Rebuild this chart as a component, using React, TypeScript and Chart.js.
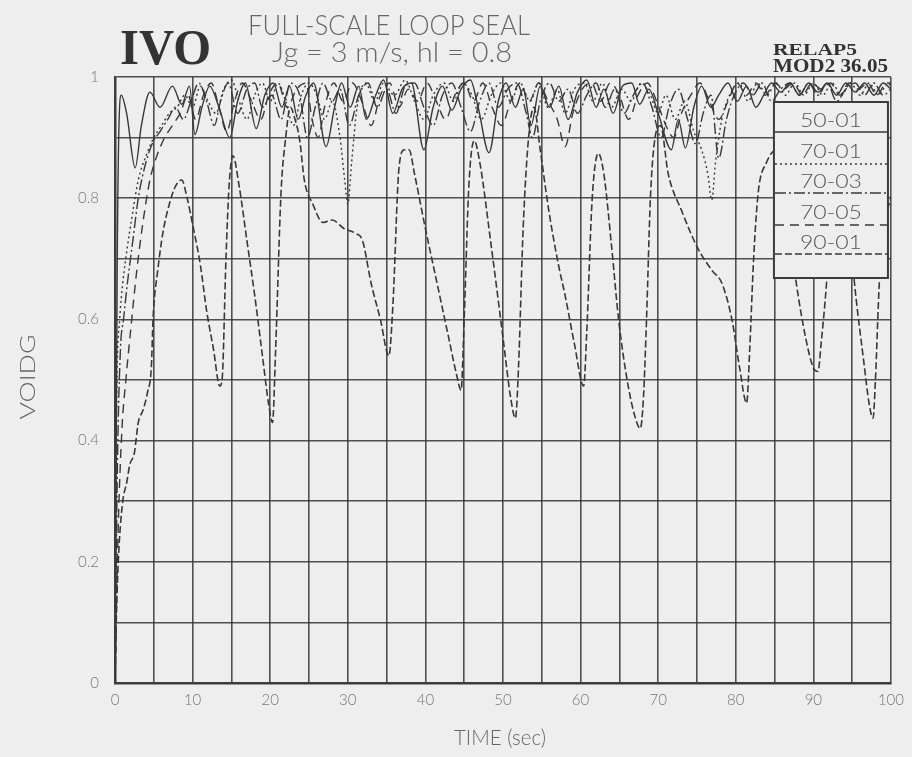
import React, { useEffect, useRef } from "react";
import { Chart, registerables } from "chart.js";

Chart.register(...registerables);

// ---------- data (time sec, VOIDG) ----------
const seriesNames = ["50-01", "70-01", "70-03", "70-05", "90-01"];

const s5001: [number, number][] = [
  [0,0],[0.3,0.72],[0.8,0.97],[1.5,0.94],[2.6,0.85],[3.4,0.92],[4.5,0.975],[5.8,0.95],[7.4,0.985],[8.6,0.955],
  [9.6,0.985],[10.3,0.905],[11.2,0.95],[12.2,0.985],[13.4,0.95],[14.8,0.9],[15.8,0.96],[16.8,0.99],[18.2,0.915],[19.3,0.97],
  [20.4,0.99],[21.5,0.95],[22.5,0.985],[23.6,0.93],[24.6,0.97],[25.6,0.99],[27.2,0.885],[28.3,0.95],[29.2,0.99],[30.3,0.95],
  [31.4,0.985],[32.4,0.93],[33.6,0.97],[34.6,0.995],[35.8,0.94],[37,0.98],[38.2,0.99],[39.8,0.88],[41,0.95],[42.2,0.985],
  [43.4,0.945],[44.6,0.98],[45.8,0.995],[46.8,0.95],[48.2,0.875],[49.4,0.96],[50.4,0.99],[51.6,0.95],[52.6,0.98],[53.6,0.92],
  [54.8,0.985],[56,0.95],[57.2,0.985],[58.4,0.93],[59.6,0.975],[60.8,0.995],[62,0.95],[63,0.98],[64.2,0.94],[65.4,0.985],
  [66.6,0.99],[67.6,0.955],[68.8,0.98],[70,0.94],[71.7,0.88],[72.6,0.93],[73.5,0.883],[74.6,0.95],[75.6,0.985],[76.8,0.95],
  [77.8,0.97],[79,0.99],[80.2,0.96],[81.4,0.985],[82.6,0.95],[83.6,0.97],[84.6,0.99],[85.8,0.975],[87,0.99],[88.2,0.97],
  [89.4,0.99],[90.6,0.975],[91.8,0.99],[93,0.97],[94.2,0.99],[95.4,0.975],[96.6,0.99],[97.8,0.97],[99,0.99],[100,0.98]
];

const s7001: [number, number][] = [
  [0,0],[0.2,0.45],[0.6,0.6],[1,0.66],[1.6,0.72],[2.2,0.77],[3,0.83],[4,0.87],[5,0.9],[6,0.92],
  [7,0.94],[8,0.95],[9,0.97],[10,0.95],[11,0.985],[12,0.96],[13,0.94],[14,0.98],[15,0.995],[16,0.96],
  [17,0.93],[18,0.97],[19,0.99],[20,0.96],[21,0.99],[22,0.96],[23,0.92],[24,0.97],[25,0.99],[26,0.97],
  [27,0.93],[28,0.96],[29,0.9],[29.6,0.83],[30,0.79],[30.5,0.86],[31.2,0.95],[32.3,0.99],[33.5,0.96],[34.6,0.99],
  [36,0.97],[37.4,0.995],[38.6,0.96],[39.8,0.93],[41,0.97],[42.4,0.99],[43.6,0.96],[44.8,0.99],[46,0.97],[47.2,0.93],
  [48.5,0.97],[49.7,0.99],[51,0.96],[52.2,0.99],[53.5,0.96],[54.6,0.99],[55.8,0.95],[57,0.98],[58,0.94],[59.2,0.98],
  [60.5,0.99],[61.6,0.96],[62.8,0.99],[64,0.95],[65.3,0.98],[66.5,0.96],[67.8,0.99],[69,0.97],[70,0.94],[71,0.97],
  [72.2,0.93],[73.4,0.96],[74.6,0.91],[75.6,0.88],[76.4,0.84],[76.9,0.797],[77.4,0.86],[78.2,0.93],[79.2,0.97],[80.4,0.99],
  [81.6,0.96],[82.8,0.99],[84,0.97],[85.2,0.99],[86.4,0.97],[87.6,0.99],[88.8,0.97],[90,0.99],[91.2,0.97],[92.4,0.99],
  [93.6,0.97],[94.8,0.99],[96,0.97],[97.2,0.99],[98.4,0.97],[99.6,0.99],[100,0.985]
];

const s7003: [number, number][] = [
  [0,0],[0.3,0.35],[0.7,0.55],[1.1,0.6],[1.6,0.66],[2.3,0.73],[3,0.8],[3.8,0.85],[4.8,0.89],[5.8,0.91],
  [6.8,0.93],[7.8,0.95],[8.8,0.93],[9.8,0.96],[10.8,0.99],[11.8,0.96],[12.8,0.92],[13.6,0.96],[14.6,0.99],[15.8,0.94],
  [17,0.98],[18,0.99],[19,0.95],[20.2,0.97],[21.4,0.93],[22.6,0.99],[23.8,0.97],[24.8,0.9],[25.8,0.95],[26.8,0.99],
  [28,0.96],[29,0.98],[30.2,0.92],[31.4,0.97],[32.6,0.99],[33.8,0.95],[35,0.98],[36.2,0.94],[37.4,0.985],[38.6,0.99],
  [39.8,0.95],[41,0.92],[42.2,0.97],[43.4,0.99],[44.6,0.95],[45.8,0.91],[47,0.96],[48.2,0.99],[49.4,0.95],[50.6,0.98],
  [51.8,0.99],[53,0.94],[53.8,0.9],[54.8,0.96],[56,0.99],[57.2,0.96],[58.4,0.98],[59.6,0.94],[60.8,0.97],[62,0.99],
  [63.2,0.95],[64.4,0.98],[65.6,0.94],[66.8,0.97],[68,0.99],[69.2,0.95],[70.4,0.9],[71.4,0.95],[72.6,0.98],[73.8,0.93],
  [74.8,0.89],[75.8,0.94],[76.8,0.97],[77.8,0.866],[78.8,0.93],[79.8,0.97],[81,0.99],[82.2,0.97],[83.4,0.99],[84.6,0.96],
  [85.8,0.98],[87,0.99],[88.2,0.97],[89.4,0.99],[90.6,0.97],[91.8,0.99],[93,0.96],[94.2,0.98],[95.4,0.99],[96.6,0.97],
  [97.8,0.99],[99,0.97],[100,0.98]
];

const s7005: [number, number][] = [
  [0,0],[0.4,0.25],[0.9,0.42],[1.4,0.5],[2,0.58],[2.8,0.68],[3.6,0.76],[4.5,0.83],[5.4,0.87],[6.4,0.9],
  [7.4,0.92],[8.4,0.94],[9.4,0.97],[10.4,0.93],[11.4,0.97],[12.4,0.99],[13.4,0.95],[14.4,0.91],[15.4,0.96],[16.4,0.99],
  [17.6,0.96],[18.8,0.93],[19.8,0.97],[21,0.99],[22.2,0.95],[23.4,0.98],[24.6,0.99],[25.4,0.93],[26.2,0.9],[27,0.95],
  [28.2,0.99],[29.4,0.96],[30.6,0.99],[31.8,0.96],[33,0.92],[34.2,0.97],[35.4,0.99],[36.6,0.95],[37.8,0.98],[39,0.96],
  [40.2,0.99],[41.4,0.96],[42.6,0.93],[43.8,0.97],[45,0.99],[46.2,0.96],[47.4,0.99],[48.6,0.95],[49.8,0.92],[51,0.96],
  [52.2,0.99],[53.4,0.96],[54.6,0.99],[55.8,0.96],[57,0.93],[58,0.885],[59,0.94],[60.2,0.98],[61.4,0.99],[62.6,0.96],
  [63.8,0.99],[65,0.97],[66.2,0.93],[67.4,0.97],[68.6,0.99],[69.8,0.96],[71,0.92],[72,0.9],[73,0.94],[74.2,0.97],
  [75.4,0.99],[76.6,0.96],[77.8,0.93],[79,0.96],[80.2,0.99],[81.4,0.97],[82.6,0.99],[83.8,0.97],[85,0.99],[86.2,0.98],
  [87.4,0.99],[88.6,0.97],[89.8,0.99],[91,0.98],[92.2,0.99],[93.4,0.97],[94.6,0.99],[95.8,0.98],[97,0.99],[98.2,0.97],
  [99.4,0.99],[100,0.99]
];

const s9001: [number, number][] = [
  [0,0],[0.2,0.12],[0.5,0.22],[1,0.3],[1.5,0.33],[1.9,0.36],[2.5,0.38],[3,0.43],[3.6,0.45],[4.2,0.48],
  [4.7,0.525],[4.9,0.6],[5.5,0.68],[6.2,0.745],[7,0.79],[7.8,0.82],[8.6,0.83],[9.3,0.8],[10,0.757],[11,0.69],
  [11.8,0.615],[12.7,0.55],[13.5,0.49],[13.8,0.5],[14.3,0.7],[14.7,0.82],[15.2,0.87],[16,0.82],[17,0.73],[18,0.64],
  [19,0.54],[19.8,0.46],[20.3,0.43],[20.7,0.55],[21.4,0.81],[22,0.9],[22.6,0.95],[23.2,0.93],[23.8,0.896],[24.4,0.83],
  [25.5,0.79],[26.8,0.76],[28,0.764],[29.5,0.75],[31,0.742],[31.9,0.73],[33,0.66],[34.2,0.6],[35.3,0.54],[35.8,0.62],
  [36.6,0.85],[37.3,0.88],[37.9,0.88],[38.6,0.84],[40,0.75],[41.5,0.66],[43,0.57],[44,0.51],[44.6,0.483],[45,0.6],
  [45.6,0.82],[46.3,0.895],[47,0.86],[48.5,0.72],[50,0.57],[51,0.47],[51.6,0.437],[52,0.52],[52.6,0.75],[53.3,0.9],
  [54,0.95],[54.8,0.88],[55.9,0.78],[57.2,0.687],[58,0.64],[59.2,0.56],[60.4,0.49],[60.8,0.58],[61.5,0.8],[62.3,0.874],
  [63,0.84],[64,0.72],[64.9,0.6],[66,0.5],[67,0.44],[67.7,0.42],[68.1,0.47],[68.5,0.6],[69,0.8],[69.6,0.9],
  [70.3,0.92],[71.3,0.84],[73,0.78],[75.2,0.715],[77,0.68],[78.2,0.66],[79.5,0.6],[80.5,0.52],[81.4,0.462],[81.8,0.55],
  [82.3,0.7],[82.9,0.81],[84,0.86],[84.6,0.874],[85.3,0.88],[86,0.84],[87,0.74],[87.8,0.66],[89,0.57],[90,0.52],
  [90.6,0.514],[91,0.56],[91.7,0.66],[92.3,0.78],[93,0.86],[93.7,0.87],[94.5,0.78],[95.3,0.66],[96.5,0.53],[97.2,0.46],
  [97.7,0.437],[98,0.5],[98.5,0.66],[99.2,0.76],[100,0.8]
];

const xTickLabels = ["0", "10", "20", "30", "40", "50", "60", "70", "80", "90", "100"];
const yTickLabels = ["0", "0.2", "0.4", "0.6", "0.8", "1"];

// ---------- styles ----------
const BG = "#eeeeee";
const INK = "#3c3c3c";
const LINE = "#383838";
const dashes: number[][] = [[], [2, 3], [11, 3, 2, 3], [9, 6], [7, 3]];

function fitText(ctx: CanvasRenderingContext2D, text: string, x: number, y: number, w: number, font: string, color: string, align: "left" | "center" = "left") {
  ctx.save();
  ctx.font = font;
  ctx.fillStyle = color;
  ctx.textBaseline = "alphabetic";
  ctx.textAlign = "left";
  const m = ctx.measureText(text).width;
  const sx = w / m;
  const left = align === "center" ? x - w / 2 : x;
  ctx.translate(left, y);
  ctx.scale(sx, 1);
  ctx.fillText(text, 0, 0);
  ctx.restore();
}

const bgPlugin = {
  id: "bgfill",
  beforeDraw(chart: any) {
    const ctx = chart.ctx;
    ctx.save();
    ctx.fillStyle = BG;
    ctx.fillRect(0, 0, chart.width, chart.height);
    ctx.restore();
  },
};

const decoPlugin = {
  id: "deco",
  afterDatasetsDraw(chart: any) {
    const ctx: CanvasRenderingContext2D = chart.ctx;
    const ca = chart.chartArea;
    // legend box
    const right = ca.right - 3;
    const left = right - 114;
    const top = ca.top + 25;
    const bottom = ca.top + 201;
    ctx.save();
    ctx.fillStyle = BG;
    ctx.fillRect(left, top, right - left, bottom - top);
    ctx.strokeStyle = INK;
    ctx.lineWidth = 2;
    ctx.strokeRect(left, top, right - left, bottom - top);
    const sepOffsets = [55, 87, 116, 148, 177];
    const textOffsets = [50, 81, 111, 142, 172];
    seriesNames.forEach((name, i) => {
      fitText(ctx, name, (left + right) / 2, ca.top + textOffsets[i], 62, "300 19px Lato", "#555", "center");
      ctx.save();
      ctx.beginPath();
      ctx.setLineDash(dashes[i]);
      ctx.strokeStyle = LINE;
      ctx.lineWidth = 1.5;
      ctx.moveTo(left + 1, ca.top + sepOffsets[i]);
      ctx.lineTo(right - 1, ca.top + sepOffsets[i]);
      ctx.stroke();
      ctx.restore();
    });
    ctx.restore();
  },
  afterDraw(chart: any) {
    const ctx: CanvasRenderingContext2D = chart.ctx;
    const ca = chart.chartArea;
    fitText(ctx, "IVO", ca.left + 5, 64, 91, "bold 50px 'Liberation Serif'", "#333");
    fitText(ctx, "FULL-SCALE LOOP SEAL", 248, 35, 282, "300 27px Lato", "#666");
    fitText(ctx, "Jg = 3 m/s, hl = 0.8", 272, 62, 240, "300 27px Lato", "#666");
    fitText(ctx, "RELAP5", 773, 55, 84, "bold 17px 'Liberation Serif'", "#333");
    fitText(ctx, "MOD2 36.05", 773, 72, 115, "bold 18px 'Liberation Serif'", "#333");
    fitText(ctx, "TIME (sec)", (ca.left + ca.right) / 2 - 3, 745, 92, "300 22px Lato", "#666", "center");
    ctx.save();
    ctx.translate(35, (ca.top + ca.bottom) / 2 - 3);
    ctx.rotate(-Math.PI / 2);
    fitText(ctx, "VOIDG", 0, 0, 85, "300 22px Lato", "#666", "center");
    ctx.restore();
  },
};

export default function App() {
  const ref = useRef<HTMLCanvasElement | null>(null);
  useEffect(() => {
    if (!ref.current) return;
    const all = [s5001, s7001, s7003, s7005, s9001];
    const chart = new Chart(ref.current, {
      type: "line",
      data: {
        datasets: all.map((s, i) => ({
          label: seriesNames[i],
          data: s.map(([x, y]) => ({ x, y })),
          borderColor: LINE,
          borderWidth: i === 4 ? 1.6 : 1.4,
          borderDash: dashes[i],
          pointRadius: 0,
          fill: false,
          cubicInterpolationMode: "monotone" as const,
        })),
      },
      options: {
        animation: false,
        responsive: true,
        maintainAspectRatio: false,
        layout: { padding: { left: 0, right: 19, top: 77, bottom: 0 } },
        plugins: { legend: { display: false }, tooltip: { enabled: false } },
        scales: {
          x: {
            type: "linear",
            min: 0,
            max: 100,
            afterFit: (s: any) => { s.height = 74; },
            ticks: {
              stepSize: 5,
              autoSkip: false,
              maxRotation: 0,
              padding: 8,
              color: "#777",
              font: { family: "Lato", size: 15, weight: 300 as any },
              callback: (v: any) => {
                const n = Math.round(Number(v));
                return n % 10 === 0 ? xTickLabels[n / 10] : "";
              },
            },
            grid: { color: "rgba(50,50,50,0.85)", lineWidth: 1.6, drawTicks: false },
            border: { display: true, color: INK, width: 2.5 },
          },
          y: {
            type: "linear",
            min: 0,
            max: 1,
            afterFit: (s: any) => { s.width = 115; },
            ticks: {
              stepSize: 0.1,
              autoSkip: false,
              padding: 16,
              color: "#777",
              font: { family: "Lato", size: 15, weight: 300 as any },
              callback: (v: any) => {
                const n = Math.round(Number(v) * 10);
                return n % 2 === 0 ? yTickLabels[n / 2] : "";
              },
            },
            grid: { color: "rgba(50,50,50,0.85)", lineWidth: 1.6, drawTicks: false },
            border: { display: true, color: INK, width: 2.5 },
          },
        },
      },
      plugins: [bgPlugin, decoPlugin],
    } as any);
    return () => chart.destroy();
  }, []);
  return (
    <div style={{ position: "absolute", left: 0, top: 0, width: 912, height: 757, background: BG }}>
      <canvas ref={ref} />
    </div>
  );
}
